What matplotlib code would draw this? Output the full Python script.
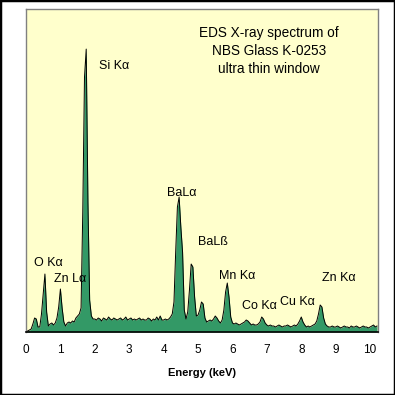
import numpy as np
import matplotlib
matplotlib.use('Agg')
import matplotlib.pyplot as plt
from matplotlib.patches import Rectangle

plt.rcParams['font.family'] = ['Liberation Sans', 'DejaVu Sans']

# 能谱数据: 通道起点 0 keV, 步长 0.05 keV
e_start = 0.0
e_step = 0.05
counts = [
    # 0.00 - 0.95
    1, 1, 2, 3, 8, 14, 13, 5, 5, 18, 38, 58, 20, 6, 8, 9, 7, 9, 14, 25,
    # 1.00 - 1.95
    43, 24, 10, 6, 9, 10, 9, 11, 10, 14, 16, 18, 24, 120, 255, 283, 130, 32, 16, 13,
    # 2.00 - 2.95
    13, 12, 14, 13, 11, 14, 13, 12, 15, 13, 12, 14, 13, 12, 13, 14, 12, 13, 15, 12,
    # 3.00 - 3.95
    13, 14, 12, 13, 12, 13, 14, 12, 13, 12, 12, 14, 13, 11, 13, 12, 15, 12, 16, 12,
    # 4.00 - 4.95
    12, 13, 12, 13, 15, 18, 30, 80, 125, 135, 105, 80, 22, 13, 20, 42, 68, 65, 35, 16,
    # 5.00 - 5.95
    17, 22, 30, 28, 14, 10, 11, 12, 11, 13, 16, 14, 11, 9, 12, 22, 40, 49, 35, 15,
    # 6.00 - 6.95
    9, 8, 9, 8, 7, 8, 9, 10, 12, 11, 9, 7, 8, 7, 7, 8, 10, 15, 13, 9,
    # 7.00 - 7.95
    7, 6, 7, 6, 6, 5, 6, 7, 6, 5, 6, 6, 7, 6, 5, 6, 7, 6, 8, 11,
    # 8.00 - 8.95
    15, 10, 7, 5, 6, 5, 6, 7, 8, 11, 18, 27, 25, 14, 8, 6, 5, 5, 6, 5,
    # 9.00 - 10.20
    5, 6, 5, 4, 5, 6, 5, 5, 4, 6, 5, 5, 6, 5, 4, 5, 6, 5, 5, 4, 5, 6, 7, 5, 6,
]
energy = e_start + e_step * np.arange(len(counts))

# 峰标注 (能量 keV, 高度)
peak_labels = ['O K\u03b1', 'Zn L\u03b1', 'Si K\u03b1', 'BaL\u03b1', 'BaL\u00df',
               'Mn K\u03b1', 'Co K\u03b1', 'Cu K\u03b1', 'Zn K\u03b1']
label_x = [0.24, 0.81, 2.12, 4.10, 5.01, 5.62, 6.28, 7.38, 8.59]
label_y = [69, 53, 266, 139, 90, 56, 26, 30, 54]

title_lines = ['EDS X-ray spectrum of', 'NBS Glass K-0253', 'ultra thin window']
x_ticks = list(range(0, 11))

fig = plt.figure(figsize=(3.95, 3.95), dpi=100)
fig.patch.set_facecolor('white')
fig.patches.append(Rectangle((0, 0), 1, 1, transform=fig.transFigure,
                             fill=False, edgecolor='black', linewidth=2.5))

ax = fig.add_axes([0.0658, 0.1595, 0.8912, 0.8175])
ax.set_facecolor('#FFFFCC')
ax.fill_between(energy, counts, 0, color='#339966', linewidth=0)
ax.plot(energy, counts, color='black', linewidth=0.7)

ax.set_xlim(0, 10.23)
ax.set_ylim(0, 323)
ax.set_xticks(x_ticks)
ax.set_xticklabels([str(t) for t in x_ticks])
ax.set_yticks([])
ax.tick_params(axis='x', length=0, pad=8.5, labelsize=8.5)
for side in ['left', 'top', 'right']:
    ax.spines[side].set_color('#808080')
    ax.spines[side].set_linewidth(1)
ax.spines['bottom'].set_color('black')
ax.spines['bottom'].set_linewidth(1.2)

ax.set_xlabel('Energy (keV)', fontweight='bold', fontsize=8, labelpad=9)

for lab, lx, ly in zip(peak_labels, label_x, label_y):
    ax.text(lx, ly, lab, fontsize=9, ha='left', va='center')

ax.text(0.69, 0.870, '\n'.join(title_lines), transform=ax.transAxes,
        fontsize=9.8, ha='center', va='center', linespacing=1.35)

fig.savefig('out.png', dpi=100)
